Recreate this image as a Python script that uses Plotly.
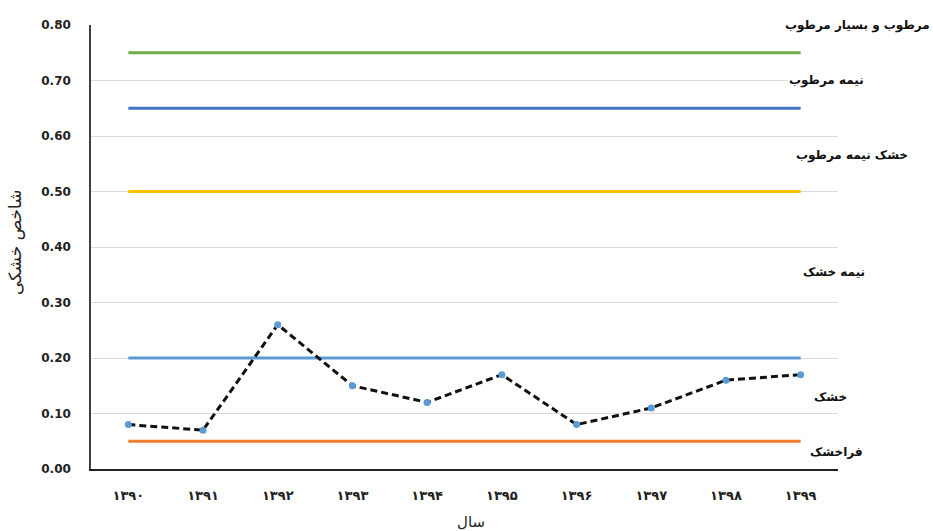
import plotly.graph_objects as go

# Years (Solar Hijri) and their labels in Persian digits
years = ["1390", "1391", "1392", "1393", "1394", "1395", "1396", "1397", "1398", "1399"]
year_labels = ["۱۳۹۰", "۱۳۹۱", "۱۳۹۲", "۱۳۹۳", "۱۳۹۴", "۱۳۹۵", "۱۳۹۶", "۱۳۹۷", "۱۳۹۸", "۱۳۹۹"]

# Aridity index per year
aridity = [0.08, 0.07, 0.26, 0.15, 0.12, 0.17, 0.08, 0.11, 0.16, 0.17]

# Class boundaries of the aridity index
bounds = [0.75, 0.65, 0.50, 0.20, 0.05]
bound_colors = ["#70AD47", "#4472C4", "#FFC000", "#5B9BD5", "#ED7D31"]

# Climate class names and the index value each label sits at
class_names = ["مرطوب و بسیار مرطوب", "نیمه مرطوب", "خشک نیمه مرطوب", "نیمه خشک", "خشک", "فراخشک"]
class_label_y = [0.80, 0.70, 0.565, 0.355, 0.13, 0.03]
class_label_x = [932, 866, 910, 867, 849, 865]

y_ticks = [0.0, 0.1, 0.2, 0.3, 0.4, 0.5, 0.6, 0.7, 0.8]

x_pos = list(range(len(years)))

fig = go.Figure()

for b, c in zip(bounds, bound_colors):
    fig.add_trace(go.Scatter(
        x=x_pos, y=[b] * len(x_pos), mode="lines",
        line=dict(color=c, width=3), hoverinfo="skip", showlegend=False,
    ))

fig.add_trace(go.Scatter(
    x=x_pos, y=aridity, mode="lines+markers",
    line=dict(color="#111111", width=3, dash="7px,4px"),
    marker=dict(color="#5B9BD5", size=7),
    showlegend=False,
))

W, H = 933, 531
L, R, T, B = 91, 95, 25, 62

fig.update_layout(
    width=W, height=H,
    margin=dict(l=L, r=R, t=T, b=B),
    paper_bgcolor="white", plot_bgcolor="white",
    font=dict(family="DejaVu Sans, Liberation Sans", color="#222222"),
    xaxis=dict(
        range=[-0.5, len(years) - 0.5],
        tickmode="array", tickvals=x_pos, ticktext=year_labels,
        tickfont=dict(size=13, family="DejaVu Sans", color="#222222", weight="bold"),
        showgrid=False, zeroline=False,
        showline=True, linecolor="#222222", linewidth=1.5,
        ticks="", ticklabelstandoff=14,
    ),
    yaxis=dict(
        range=[0, 0.8],
        tickmode="array", tickvals=y_ticks,
        ticktext=[f"{v:.2f}" for v in y_ticks],
        tickfont=dict(size=12, family="DejaVu Sans", color="#222222", weight="bold"),
        showgrid=True, gridcolor="#D9D9D9", gridwidth=1,
        zeroline=False,
        showline=True, linecolor="#404040", linewidth=1.5,
        ticks="", ticklabelstandoff=16,
    ),
)

# Axis titles
fig.add_annotation(
    xref="paper", yref="paper", x=-(L - 15) / (W - L - R), y=(H - B - 243) / (H - T - B),
    text="شاخص خشکی", textangle=-90, showarrow=False,
    font=dict(size=17, family="DejaVu Sans", color="#222222"),
    xanchor="center", yanchor="middle",
)
fig.add_annotation(
    xref="paper", yref="paper", x=(471 - L) / (W - L - R), y=-(522 - (H - B)) / (H - T - B),
    text="سال", showarrow=False,
    font=dict(size=15, family="DejaVu Sans", color="#222222"),
    xanchor="center", yanchor="middle",
)

# Climate class labels on the right
for name, yv, xr in zip(class_names, class_label_y, class_label_x):
    fig.add_annotation(
        xref="paper", yref="y", x=(xr - L) / (W - L - R), y=yv,
        text=name, showarrow=False, bgcolor="white",
        font=dict(size=12, family="DejaVu Sans", color="#111111", weight="bold"),
        xanchor="right", yanchor="middle",
    )

fig.write_html("out.html")
